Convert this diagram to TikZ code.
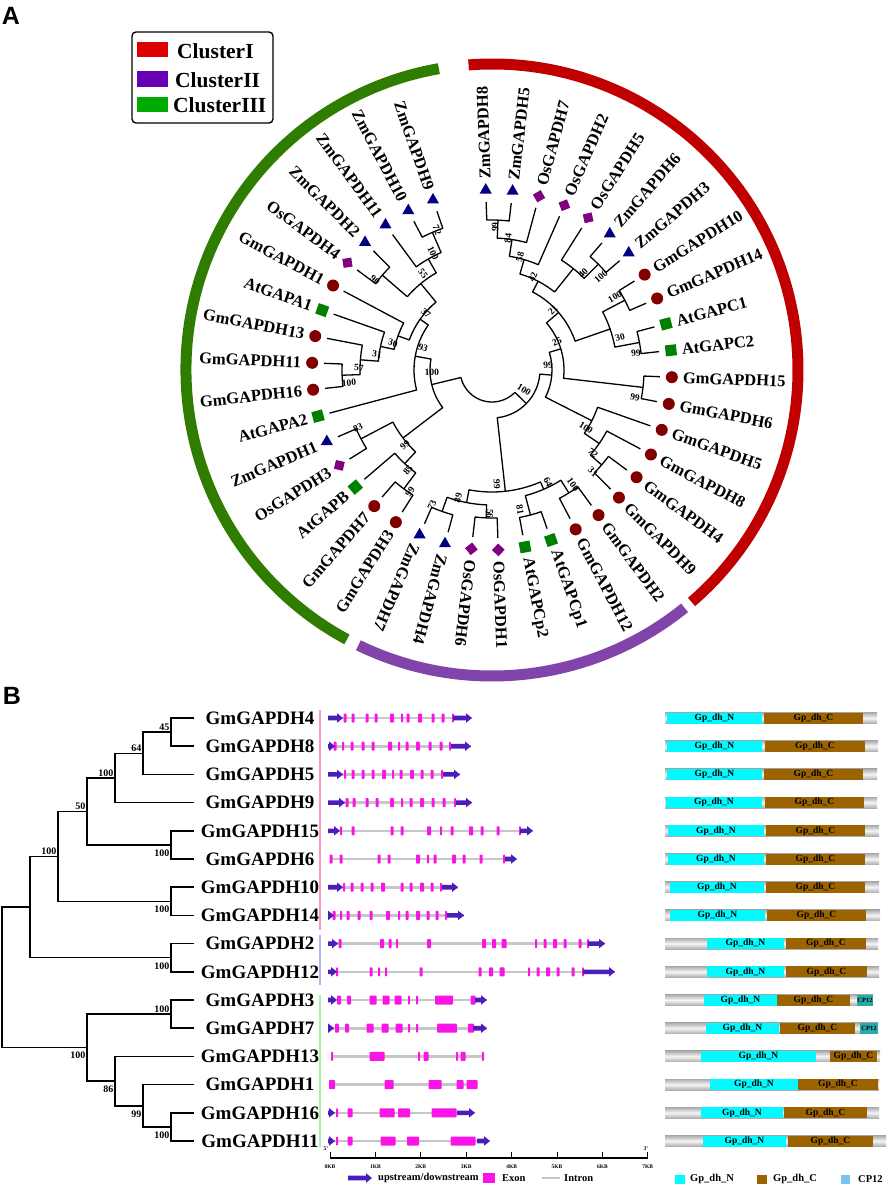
\documentclass[tikz,border=0pt]{standalone}
\usepackage{fontspec}
\setmainfont{Liberation Serif}
\newfontfamily\panelfont{Liberation Sans}
\usetikzlibrary{shapes.geometric}

\definecolor{cluI}{RGB}{192,0,0}
\definecolor{cluII}{RGB}{128,68,170}
\definecolor{cluIII}{RGB}{46,125,0}
\definecolor{legI}{RGB}{220,0,0}
\definecolor{legII}{RGB}{102,0,180}
\definecolor{legIII}{RGB}{0,170,0}
\definecolor{gmred}{RGB}{128,0,0}
\definecolor{atgreen}{RGB}{0,128,0}
\definecolor{ospurple}{RGB}{128,0,128}
\definecolor{zmblue}{RGB}{0,0,128}
\definecolor{utr}{RGB}{75,30,185}
\definecolor{exonpink}{RGB}{250,20,230}
\definecolor{nterm}{RGB}{0,250,255}
\definecolor{cterm}{RGB}{156,100,0}
\definecolor{cpteal}{RGB}{40,170,170}
\definecolor{cplight}{RGB}{120,196,242}
\definecolor{barI}{RGB}{255,150,200}
\definecolor{barII}{RGB}{180,180,240}
\definecolor{barIII}{RGB}{170,240,170}

\begin{document}
\begin{tikzpicture}[x=1pt, y=-1pt,
    branch/.style={line width=1.3pt, line join=round},
    boot/.style={font=\fontsize{9.5}{10}\selectfont\bfseries, inner sep=0pt},
    leaflab/.style={font=\fontsize{16.5}{18}\selectfont\bfseries, inner sep=0pt},
    gmmark/.style={circle, fill=gmred, minimum size=12pt, inner sep=0pt},
    atmark/.style={rectangle, fill=atgreen, minimum size=11pt, inner sep=0pt},
    osmark/.style={rectangle, fill=ospurple, minimum size=9pt, inner sep=0pt},
    zmmark/.style={regular polygon, regular polygon sides=3, fill=zmblue, minimum size=14pt, inner sep=0pt},
    clu/.style={line width=11pt},
    legtext/.style={font=\fontsize{21.5}{24}\selectfont\bfseries, anchor=west, inner sep=0pt},
    genelab/.style={font=\fontsize{19}{22}\selectfont\bfseries, inner sep=0pt},
    btree/.style={line width=1.5pt},
    bsb/.style={font=\fontsize{10}{11}\selectfont\bfseries, inner sep=0.5pt},
    intron/.style={line width=2.6pt, draw=gray!45},
    exon/.style={fill=exonpink, rounded corners=0.8pt},
    domtext/.style={font=\fontsize{9.5}{10}\selectfont\bfseries, inner sep=0pt},
    ticklab/.style={font=\fontsize{5.5}{6}\selectfont\bfseries, inner sep=0pt},
    keytext/.style={font=\fontsize{10.5}{12}\selectfont\bfseries, anchor=west, inner sep=0pt},
    panellab/.style={font=\fontsize{25}{28}\selectfont\panelfont\bfseries, inner sep=0pt}]
  \useasboundingbox (0,0) rectangle (886,1185);

  % panel A
  \node[panellab] (pA) at (11,16) {A};
  \draw[rounded corners=4pt, line width=1.4pt] (132,32) rectangle (273,123);
  \fill[legI] (137,42) rectangle (168,57);
  \fill[legII] (137,71) rectangle (168,87);
  \fill[legIII] (137,97) rectangle (168,112);
  \node[legtext] (kI) at (177,51) {ClusterI};
  \node[legtext] (kII) at (175,80) {ClusterII};
  \node[legtext] (kIII) at (173,105) {ClusterIII};

  \begin{scope}[shift={(492,370)}, yscale=-1]
    \draw[clu, cluI] (94.4:306) arc[start angle=94.4, end angle=-49.3, radius=306];
    \draw[clu, cluII] (-51:306) arc[start angle=-51, end angle=-115.9, radius=306];
    \draw[clu, cluIII] (100:306) arc[start angle=100, end angle=241.7, radius=306];

    % inner nodes: child a / radius, child b / radius, node radius
    \foreach \pa/\ra/\pb/\rb/\rad in {
        0/168/1/168/150, 0.5/150/2/168/132, 1.25/132/3/168/115,
        5/168/6/168/150, 4/168/5.5/150/130, 2.125/115/4.75/130/100,
        7/168/8/168/150, 9/168/10/168/150, 7.5/150/9.5/150/125,
        3.4375/100/8.5/125/88, 11/168/12/168/152, 5.96875/88/11.5/152/72,
        15/168/16/168/145, 14/168/15.5/145/130, 13/168/14.75/130/112,
        8.734375/72/13.875/112/60,
        17/168/18/168/145, 19/168/20/168/150, 17.5/145/19.5/150/130,
        21/168/22/168/148, 23/168/24/168/150, 21.5/148/23.5/150/135,
        18.5/130/22.5/135/122, 11.3046875/60/20.5/122/48,
        25/168/26/168/148, 25.5/148/27/168/128, 28/168/29/168/148,
        26.25/128/28.5/148/112, 31/168/32/168/150, 31.5/150/33/168/132,
        32.25/132/34/168/114, 33.125/114/35/168/100, 36/168/37/168/145,
        39/168/40/168/150, 38/168/39.5/150/128, 36.5/145/38.75/128/112,
        34.0625/100/37.625/112/88, 30/168/35.84375/88/78,
        27.375/112/32.921875/78/62, 15.90234375/48/30.1484375/62/32} {
      \pgfmathsetmacro\angA{92-360/42*\pa}
      \pgfmathsetmacro\angB{92-360/42*\pb}
      \draw[branch] (\angA:\ra) -- (\angA:\rad) arc[start angle=\angA, end angle=\angB, radius=\rad] -- (\angB:\rb);
    }

    \foreach \i in {7,8,11,12,13,14,15,16,17,18,25,26,31,32,33,35}
      \node[gmmark] (mk\i) at ({92-360/42*\i}:180) {};
    \foreach \i in {9,10,19,20,27,30,34}
      \node[atmark, rotate={92-360/42*\i}] (mk\i) at ({92-360/42*\i}:180) {};
    \foreach \i in {2,3,4,21,22,28,36}
      \node[osmark, rotate={137-360/42*\i}] (mk\i) at ({92-360/42*\i}:180) {};
    \foreach \i in {0,1,5,6,23,24,29,37,38,39,40}
      \node[zmmark] (mk\i) at ({92-360/42*\i}:180) {};

    \foreach \i/\name in {0/ZmGAPDH8, 1/ZmGAPDH5, 2/OsGAPDH7, 3/OsGAPDH2,
        4/OsGAPDH5, 5/ZmGAPDH6, 6/ZmGAPDH3, 7/GmGAPDH10, 8/GmGAPDH14,
        9/AtGAPC1, 10/AtGAPC2, 11/GmGAPDH15, 12/GmGAPDH6, 13/GmGAPDH5,
        14/GmGAPDH8, 15/GmGAPDH4, 16/GmGAPDH9, 17/GmGAPDH2, 18/GmGAPDH12,
        19/AtGAPCp1, 20/AtGAPCp2, 21/OsGAPDH1, 22/OsGAPDH6, 23/ZmGAPDH4,
        24/ZmGAPDH7, 25/GmGAPDH3, 26/GmGAPDH7, 27/AtGAPB, 28/OsGAPDH3,
        29/ZmGAPDH1, 30/AtGAPA2, 31/GmGAPDH16, 32/GmGAPDH11, 33/GmGAPDH13,
        34/AtGAPA1, 35/GmGAPDH1, 36/OsGAPDH4, 37/ZmGAPDH2, 38/ZmGAPDH11,
        39/ZmGAPDH10, 40/ZmGAPDH9} {
      \pgfmathsetmacro\ang{92-360/42*\i}
      \ifnum\i<25
        \node[leaflab, rotate=\ang, anchor=west] (lb\i) at (\ang:191) {\name};
      \else
        \node[leaflab, rotate=\ang+180, anchor=east] (lb\i) at (\ang:191) {\name};
      \fi
    }
  \end{scope}

  % bootstrap values
  \foreach \x/\y/\bs [count=\k] in {
      495/227/99, 508/238/84, 520/257/58, 533/277/42, 583/273/40, 601/277/100,
      553/310/21, 615/297/100, 620/337/30, 636/353/99, 557/342/25, 635/397/99,
      548/365/99, 586/428/100, 593/453/72, 593/472/31,
      524/390/100, 497/484/99, 458/498/89, 432/505/73, 490/514/56, 548/482/64,
      520/510/81, 573/485/100,
      432/372/100, 405/445/99, 358/428/83, 408/470/85, 410/492/99, 423/348/93,
      426/313/37, 393/343/30, 377/354/31, 359/368/57, 349/383/100, 423/274/55,
      375/280/90, 433/253/100, 437/230/72} {
    \pgfmathsetmacro\ang{atan2(370-\y,\x-492)}
    \pgfmathsetmacro\rot{(\ang>90.5 || \ang<-92.5) ? \ang+180 : \ang}
    \node[boot, rotate=\rot] (bs\k) at (\x,\y) {\bs};
  }

  % panel B
  \node[panellab] (pB) at (12,696) {B};
  \foreach \i/\name in {0/GmGAPDH4, 1/GmGAPDH8, 2/GmGAPDH5, 3/GmGAPDH9,
      4/GmGAPDH15, 5/GmGAPDH6, 6/GmGAPDH10, 7/GmGAPDH14, 8/GmGAPDH2,
      9/GmGAPDH12, 10/GmGAPDH3, 11/GmGAPDH7, 12/GmGAPDH13, 13/GmGAPDH1,
      14/GmGAPDH16, 15/GmGAPDH11}
    \node[genelab] (g\i) at (260,{718+28.2*\i}) {\name};

  \foreach \xn/\ya/\xa/\yb/\xb in {
      171/718/194/746.2/194, 143/732.1/171/774.4/194, 115/753.25/143/802.6/194,
      171/830.8/194/859/194, 87/777.9/115/844.9/171, 171/887.2/194/915.4/194,
      58/811.4/87/901.3/171, 171/943.6/194/971.8/194, 30/856.35/58/957.7/171,
      171/1000/194/1028.2/194, 171/1112.8/194/1141/194, 143/1084.6/194/1126.9/171,
      115/1056.4/194/1105.75/143, 87/1014.1/171/1081.1/115, 2/907/30/1047.6/87}
    \draw[btree] (\xa,\ya) -- (\xn,\ya) -- (\xn,\yb) -- (\xb,\yb);

  \foreach \xn/\yn/\bs in {171/732.1/45, 143/753.25/64, 115/777.9/100,
      87/811.4/50, 58/856.35/100, 171/1014.1/100}
    \node[bsb, anchor=south east] at (\xn-1,\yn-1) {\bs};
  \foreach \xn/\yn/\bs in {171/844.9/100, 171/901.3/100, 171/957.7/100,
      171/1126.9/100, 143/1105.75/99, 115/1081.1/86, 87/1047.6/100}
    \node[bsb, anchor=north east] at (\xn-1,\yn+4) {\bs};

  \draw[line width=1.5pt, barI] (320,710) -- (320,930);
  \draw[line width=1.5pt, barII] (320,935) -- (320,985);
  \draw[line width=1.5pt, barIII] (320,995) -- (320,1147);

  % gene structures
  \foreach \i/\xs/\xe/\ex in {
      0/328/472/{345/3,353/3,367/3,376/3,392/4,402/2,408/3,420/4,433/3,443/3,453/2},
      1/328/471/{335/3,343/2,352/3,363/3,373/3,390/4,399/2,407/3,418/4,430/3,441/3,450/2},
      2/328/460/{345/2,353/3,363/3,373/3,384/4,393/2,401/3,412/4,422/3,432/3,442/2},
      3/328/472/{347/3,354/3,367/3,377/3,392/4,402/2,411/3,422/4,433/3,444/3,455/2},
      4/328/533/{341/2,353/3,392/3,402/3,429/4,441/2,452/3,471/4,482/3,498/3,520/2},
      5/330/517/{331/3,341/3,379/3,389/3,418/4,428/2,435/3,454/4,464/3,481/3,504/2},
      6/328/458/{344/2,352/3,362/3,372/3,383/4,402/3,411/3,422/4,432/3,441/2},
      7/328/464/{334/3,341/2,348/3,359/3,371/3,388/4,399/2,407/3,418/4,428/3,437/3,446/2},
      8/328/605/{340/3,382/4,390/3,397/2,429/4,484/4,494/4,504/5,536/2,545/3,555/4,565/3,580/3,588/2},
      9/328/615/{337/2,371/3,379/2,386/2,421/3,480/3,491/4,502/5,529/2,538/3,548/4,558/3,573/3,583/2},
      10/328/487/{339/4,349/4,373/7,386/7,398/7,409/2,417/2,444/18,473/5},
      11/328/487/{337/4,347/4,370/7,385/7,399/7,409/2,417/2,447/20,471/6},
      12/331/483/{332/2,377/15,419/2,426/5,457/2,463/5,483/2},
      13/330/477/{332/6,389/9,435/13,460/7,472/11},
      14/328/475/{337/2,350/5,387/15,404/12,444/25},
      15/328/490/{337/2,350/5,388/15,413/12,463/25}} {
    \pgfmathsetmacro\y{718+28.2*\i}
    \draw[intron] (\xs,\y) -- (\xe,\y);
    \foreach \xc/\w in \ex
      \fill[exon] (\xc-\w/2,\y-4.5) rectangle (\xc+\w/2,\y+4.5);
  }
  \foreach \i/\xs/\xe in {0/328/343, 0/453/472, 1/328/335, 1/451/471,
      2/328/343, 2/443/460, 3/328/345, 3/456/472, 4/328/340, 4/520/533,
      5/505/517, 6/328/343, 6/442/458, 7/328/334, 7/447/464,
      8/328/338, 8/588/605, 9/328/337, 9/583/615, 10/328/337, 10/475/487,
      11/328/334, 11/473/487, 14/328/335, 14/457/475, 15/328/335, 15/477/490} {
    \pgfmathsetmacro\y{718+28.2*\i}
    \fill[utr] (\xs,\y-2.3) -- (\xe-6,\y-2.3) -- (\xe-6,\y-4.8) -- (\xe,\y)
      -- (\xe-6,\y+4.8) -- (\xe-6,\y+2.3) -- (\xs,\y+2.3) -- cycle;
  }

  % scale
  \draw[line width=1.2pt] (330,1158) -- (648,1158);
  \foreach \k in {0,...,7} {
    \draw[line width=1pt] ({330+45.4*\k},1158) -- ({330+45.4*\k},1152);
    \node[ticklab] (kb\k) at ({330+45.4*\k},1167) {\k KB};
  }
  \node[ticklab] (five) at (326,1149) {5'};
  \node[ticklab] (three) at (646,1149) {3'};

  \fill[utr] (348,1175.7) -- (366,1175.7) -- (366,1173.2) -- (372,1178)
    -- (366,1182.8) -- (366,1180.3) -- (348,1180.3) -- cycle;
  \node[keytext] (kup) at (378,1178) {upstream/downstream};
  \fill[exonpink] (483,1173) rectangle (495,1183);
  \node[keytext] (kex) at (502,1178) {Exon};
  \draw[intron] (542,1178) -- (560,1178);
  \node[keytext] (kin) at (564,1178) {Intron};

  % domains
  \foreach \i/\xe/\ns/\ne/\cs/\ce in {
      0/877/667/762/764/863, 1/878/667/762/765/865, 2/877/667/762/764/863,
      3/877/666/762/765/864, 4/879/668/764/766/865, 5/879/668/764/766/865,
      6/879/670/764/766/865, 7/880/670/765/767/866, 8/878/707/784/786/866,
      9/879/707/784/786/867, 10/873/704/777/777/850, 11/878/706/779/780/855,
      12/880/701/816/830/877, 13/879/710/798/798/878, 14/879/701/783/784/867,
      15/886/703/786/788/873} {
    \pgfmathsetmacro\y{718+28.2*\i}
    \shade[top color=gray!65, bottom color=gray!65, middle color=gray!8]
      (665,\y-5.5) rectangle (\xe,\y+5.5);
    \fill[nterm] (\ns,\y-5.5) rectangle (\ne,\y+5.5);
    \fill[cterm] (\cs,\y-5.5) rectangle (\ce,\y+5.5);
    \node[domtext] (dn\i) at ({(\ns+\ne)/2},\y) {Gp\_dh\_N};
    \node[domtext] (dc\i) at ({(\cs+\ce)/2},\y) {Gp\_dh\_C};
  }
  \foreach \i/\xs/\xe in {10/857/873, 11/860/878} {
    \pgfmathsetmacro\y{718+28.2*\i}
    \fill[cpteal] (\xs,\y-5.5) rectangle (\xe,\y+5.5);
    \node[ticklab, font=\fontsize{6.5}{7}\selectfont\bfseries] (cp\i) at ({(\xs+\xe)/2},\y) {CP12};
  }

  \fill[nterm] (675,1175) rectangle (685,1184);
  \node[keytext] (kn) at (690,1179) {Gp\_dh\_N};
  \fill[cterm] (757,1175) rectangle (767,1184);
  \node[keytext] (kc) at (773,1179) {Gp\_dh\_C};
  \fill[cplight] (841,1175) rectangle (850,1184);
  \node[keytext] (kcp) at (858,1179) {CP12};
\end{tikzpicture}
\end{document}
